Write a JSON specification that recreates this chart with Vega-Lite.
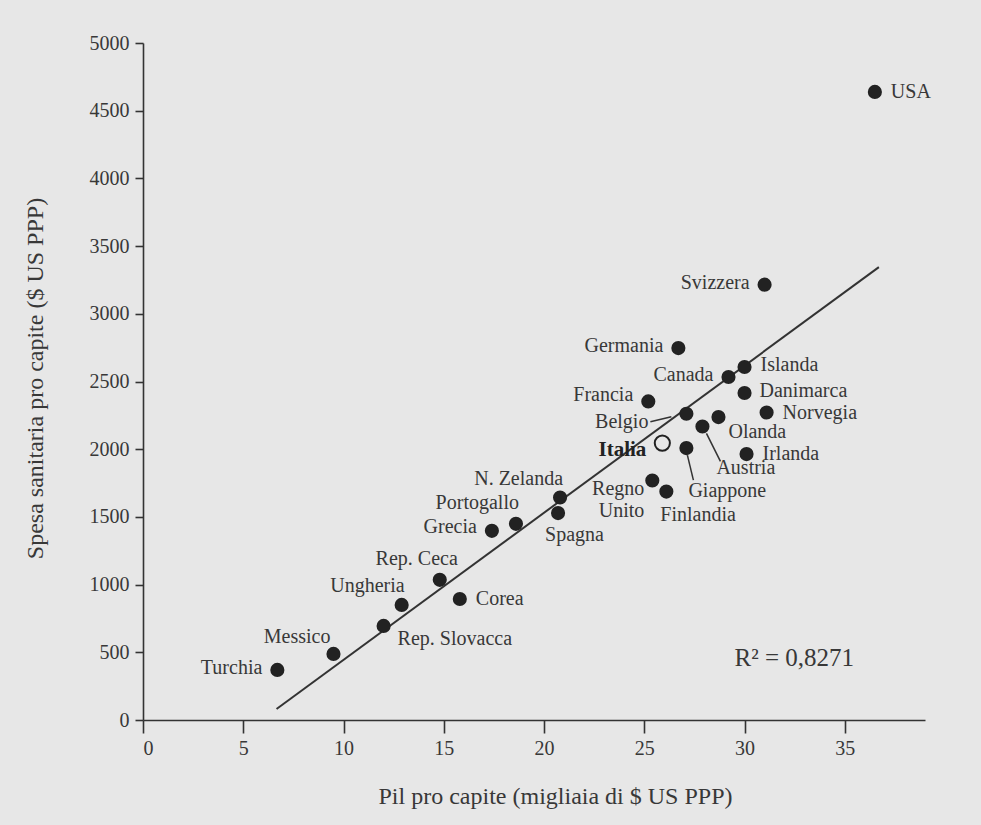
{
  "$schema": "https://vega.github.io/schema/vega-lite/v6.json",
  "width": 782,
  "height": 677,
  "autosize": {"type": "none"},
  "padding": {"left": 143, "top": 43, "right": 56, "bottom": 105},
  "background": "#e7e7e7",
  "config": {
    "view": {"stroke": null},
    "font": "Liberation Serif",
    "text": {"font": "Liberation Serif", "fontSize": 20, "color": "#383838", "baseline": "middle"},
    "axis": {
      "grid": false,
      "domainColor": "#333333",
      "domainWidth": 1.6,
      "tickColor": "#333333",
      "tickWidth": 1.6,
      "labelFont": "Liberation Serif",
      "labelFontSize": 20,
      "labelColor": "#383838",
      "titleFont": "Liberation Serif",
      "titleFontSize": 24,
      "titleFontWeight": "normal",
      "titleColor": "#383838"
    }
  },
  "datasets": {
    "countries": [
      {"country": "USA", "gdp": 36.5, "spend": 4639},
      {"country": "Svizzera", "gdp": 31.0, "spend": 3215},
      {"country": "Germania", "gdp": 26.7, "spend": 2747},
      {"country": "Islanda", "gdp": 30.0, "spend": 2607},
      {"country": "Canada", "gdp": 29.2, "spend": 2533},
      {"country": "Danimarca", "gdp": 30.0, "spend": 2415},
      {"country": "Francia", "gdp": 25.2, "spend": 2353},
      {"country": "Norvegia", "gdp": 31.1, "spend": 2271},
      {"country": "Belgio", "gdp": 27.1, "spend": 2262},
      {"country": "Olanda", "gdp": 28.7, "spend": 2237},
      {"country": "Austria", "gdp": 27.9, "spend": 2168},
      {"country": "Italia", "gdp": 25.9, "spend": 2045},
      {"country": "Giappone", "gdp": 27.1, "spend": 2008},
      {"country": "Irlanda", "gdp": 30.1, "spend": 1964},
      {"country": "Regno Unito", "gdp": 25.4, "spend": 1769},
      {"country": "Finlandia", "gdp": 26.1, "spend": 1687},
      {"country": "N. Zelanda", "gdp": 20.8, "spend": 1643},
      {"country": "Spagna", "gdp": 20.7, "spend": 1528},
      {"country": "Portogallo", "gdp": 18.6, "spend": 1449},
      {"country": "Grecia", "gdp": 17.4, "spend": 1397},
      {"country": "Rep. Ceca", "gdp": 14.8, "spend": 1035},
      {"country": "Corea", "gdp": 15.8, "spend": 894},
      {"country": "Ungheria", "gdp": 12.9, "spend": 850},
      {"country": "Rep. Slovacca", "gdp": 12.0, "spend": 695},
      {"country": "Messico", "gdp": 9.5, "spend": 488},
      {"country": "Turchia", "gdp": 6.7, "spend": 370}
    ],
    "note": [
      {"gdp": 29.5, "spend": 460, "label": "R² = 0,8271"}
    ]
  },
  "data": {"name": "countries"},
  "encoding": {
    "x": {
      "field": "gdp",
      "type": "quantitative",
      "scale": {"domain": [0, 39], "nice": false},
      "axis": {
        "title": "Pil pro capite (migliaia di $ US PPP)",
        "values": [0, 5, 10, 15, 20, 25, 30, 35],
        "tickSize": 13,
        "labelPadding": 5,
        "titleX": 412,
        "titleY": 64
      }
    },
    "y": {
      "field": "spend",
      "type": "quantitative",
      "scale": {"domain": [0, 5000], "nice": false},
      "axis": {
        "title": "Spesa sanitaria pro capite ($ US PPP)",
        "format": "d",
        "values": [0, 500, 1000, 1500, 2000, 2500, 3000, 3500, 4000, 4500, 5000],
        "tickSize": 8,
        "labelPadding": 6,
        "titleX": -96,
        "titleY": 335
      }
    }
  },
  "layer": [
    {
      "transform": [{"regression": "spend", "on": "gdp", "extent": [6.66, 36.7]}],
      "mark": {"type": "line", "color": "#333333", "strokeWidth": 2}
    },
    {
      "transform": [{"filter": {"field": "country", "equal": "Austria"}}],
      "mark": {"type": "rule", "color": "#333333", "strokeWidth": 1.5, "xOffset": 4, "yOffset": 7, "x2Offset": 18, "y2Offset": 35},
      "encoding": {"x2": {"field": "gdp"}, "y2": {"field": "spend"}}
    },
    {
      "transform": [{"filter": {"field": "country", "equal": "Giappone"}}],
      "mark": {"type": "rule", "color": "#333333", "strokeWidth": 1.5, "xOffset": 1, "yOffset": 7, "x2Offset": 7, "y2Offset": 32},
      "encoding": {"x2": {"field": "gdp"}, "y2": {"field": "spend"}}
    },
    {
      "transform": [{"filter": {"field": "country", "equal": "Belgio"}}],
      "mark": {"type": "rule", "color": "#333333", "strokeWidth": 1.5, "xOffset": -36, "yOffset": 8, "x2Offset": -15, "y2Offset": 3},
      "encoding": {"x2": {"field": "gdp"}, "y2": {"field": "spend"}}
    },
    {
      "transform": [{"filter": {"not": {"field": "country", "equal": "Italia"}}}],
      "mark": {"type": "point", "filled": true, "size": 200, "color": "#222222", "opacity": 1}
    },
    {
      "transform": [{"filter": {"field": "country", "equal": "Italia"}}],
      "mark": {"type": "point", "filled": false, "size": 230, "color": "#222222", "strokeWidth": 2, "opacity": 1}
    },
    {
      "transform": [{"filter": {"field": "country", "oneOf": ["Svizzera", "Germania", "Canada", "Turchia"]}}],
      "mark": {"type": "text", "align": "right", "dx": -15, "dy": -2},
      "encoding": {"text": {"field": "country"}}
    },
    {
      "transform": [{"filter": {"field": "country", "oneOf": ["USA", "Norvegia", "Irlanda", "Corea"]}}],
      "mark": {"type": "text", "align": "left", "dx": 16, "dy": 0},
      "encoding": {"text": {"field": "country"}}
    },
    {
      "transform": [{"filter": {"field": "country", "equal": "Islanda"}}],
      "mark": {"type": "text", "align": "left", "dx": 16, "dy": -2},
      "encoding": {"text": {"field": "country"}}
    },
    {
      "transform": [{"filter": {"field": "country", "equal": "Danimarca"}}],
      "mark": {"type": "text", "align": "left", "dx": 15, "dy": -2},
      "encoding": {"text": {"field": "country"}}
    },
    {
      "transform": [{"filter": {"field": "country", "equal": "Francia"}}],
      "mark": {"type": "text", "align": "right", "dx": -15, "dy": -6},
      "encoding": {"text": {"field": "country"}}
    },
    {
      "transform": [{"filter": {"field": "country", "equal": "Grecia"}}],
      "mark": {"type": "text", "align": "right", "dx": -15, "dy": -4},
      "encoding": {"text": {"field": "country"}}
    },
    {
      "transform": [{"filter": {"field": "country", "equal": "Belgio"}}],
      "mark": {"type": "text", "align": "right", "dx": -38, "dy": 8},
      "encoding": {"text": {"field": "country"}}
    },
    {
      "transform": [{"filter": {"field": "country", "equal": "Olanda"}}],
      "mark": {"type": "text", "align": "left", "dx": 10, "dy": 15},
      "encoding": {"text": {"field": "country"}}
    },
    {
      "transform": [{"filter": {"field": "country", "equal": "Austria"}}],
      "mark": {"type": "text", "align": "left", "dx": 14, "dy": 42},
      "encoding": {"text": {"field": "country"}}
    },
    {
      "transform": [{"filter": {"field": "country", "equal": "Giappone"}}],
      "mark": {"type": "text", "align": "left", "dx": 2, "dy": 43},
      "encoding": {"text": {"field": "country"}}
    },
    {
      "transform": [{"filter": {"field": "country", "equal": "Italia"}}],
      "mark": {"type": "text", "align": "right", "dx": -16, "dy": 7, "fontSize": 21, "fontWeight": "bold", "color": "#222222"},
      "encoding": {"text": {"field": "country"}}
    },
    {
      "transform": [{"filter": {"field": "country", "equal": "Regno Unito"}}],
      "mark": {"type": "text", "align": "right", "dx": -8, "dy": -1, "baseline": "top", "lineBreak": " ", "lineHeight": 22},
      "encoding": {"text": {"field": "country"}}
    },
    {
      "transform": [{"filter": {"field": "country", "equal": "Finlandia"}}],
      "mark": {"type": "text", "align": "left", "dx": -6, "dy": 23},
      "encoding": {"text": {"field": "country"}}
    },
    {
      "transform": [{"filter": {"field": "country", "equal": "Spagna"}}],
      "mark": {"type": "text", "align": "left", "dx": -13, "dy": 22},
      "encoding": {"text": {"field": "country"}}
    },
    {
      "transform": [{"filter": {"field": "country", "oneOf": ["N. Zelanda", "Ungheria"]}}],
      "mark": {"type": "text", "align": "right", "dx": 3, "dy": -19},
      "encoding": {"text": {"field": "country"}}
    },
    {
      "transform": [{"filter": {"field": "country", "equal": "Portogallo"}}],
      "mark": {"type": "text", "align": "right", "dx": 3, "dy": -21},
      "encoding": {"text": {"field": "country"}}
    },
    {
      "transform": [{"filter": {"field": "country", "equal": "Messico"}}],
      "mark": {"type": "text", "align": "right", "dx": -3, "dy": -17},
      "encoding": {"text": {"field": "country"}}
    },
    {
      "transform": [{"filter": {"field": "country", "equal": "Rep. Ceca"}}],
      "mark": {"type": "text", "align": "right", "dx": 18, "dy": -21},
      "encoding": {"text": {"field": "country"}}
    },
    {
      "transform": [{"filter": {"field": "country", "equal": "Rep. Slovacca"}}],
      "mark": {"type": "text", "align": "left", "dx": 14, "dy": 13},
      "encoding": {"text": {"field": "country"}}
    },
    {
      "data": {"name": "note"},
      "mark": {"type": "text", "align": "left", "fontSize": 25},
      "encoding": {"text": {"field": "label"}}
    }
  ]
}
